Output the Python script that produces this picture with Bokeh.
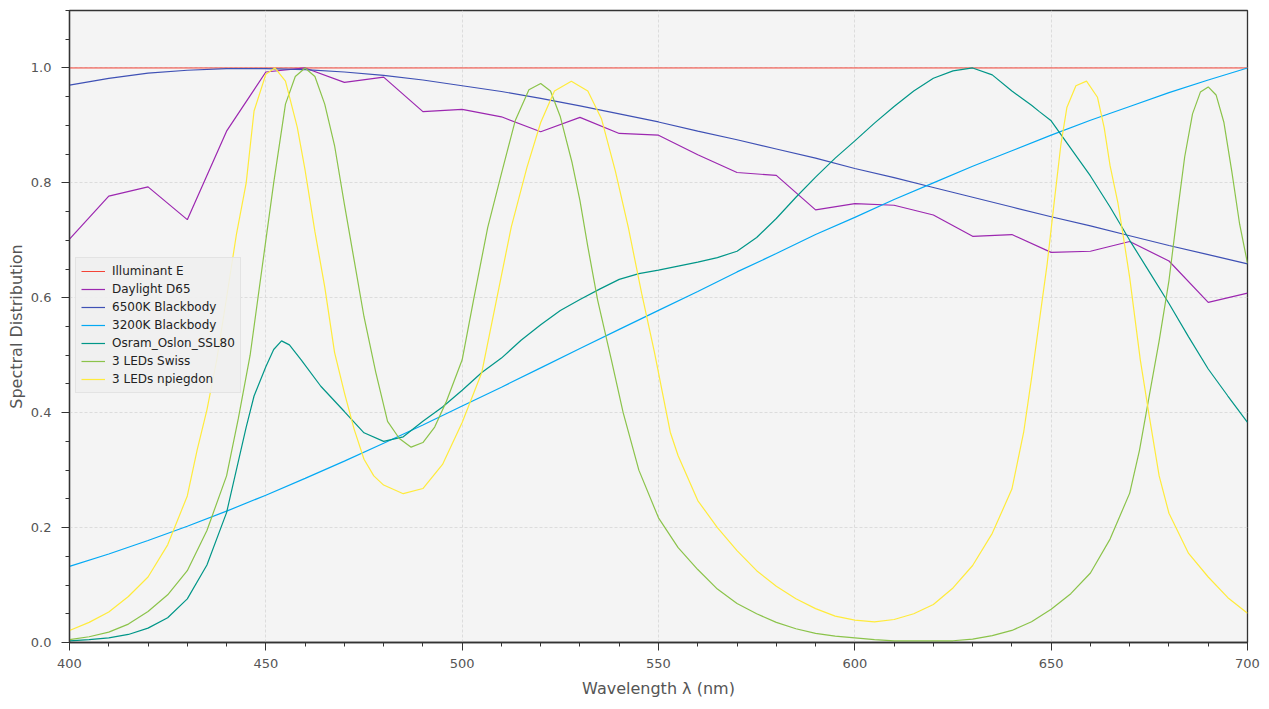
from bokeh.plotting import figure
from bokeh.models import Range1d, SingleIntervalTicker, NumeralTickFormatter, Legend, LegendItem
from bokeh.embed import file_html
from bokeh.resources import INLINE

# ---------------- data ----------------
wl10 = list(range(400, 701, 10))

illuminant_e_x = [400, 700]
illuminant_e_y = [1.0, 1.0]

d65_y = [0.702, 0.777, 0.793, 0.736, 0.890, 0.993, 1.000, 0.975, 0.984, 0.924,
         0.928, 0.915, 0.889, 0.914, 0.886, 0.883, 0.849, 0.818, 0.813, 0.753,
         0.764, 0.761, 0.744, 0.707, 0.710, 0.679, 0.681, 0.698, 0.664, 0.592, 0.608]

bb6500_y = [0.970, 0.982, 0.991, 0.996, 0.999, 0.999, 0.997, 0.993, 0.987, 0.979,
            0.969, 0.959, 0.947, 0.934, 0.920, 0.906, 0.890, 0.875, 0.859, 0.843,
            0.825, 0.809, 0.792, 0.775, 0.758, 0.741, 0.725, 0.708, 0.691, 0.675, 0.659]

bb3200_y = [0.1325, 0.154, 0.1775, 0.2023, 0.2286, 0.2564, 0.2857, 0.3157, 0.3468, 0.3787,
            0.4115, 0.4444, 0.478, 0.5117, 0.545, 0.578, 0.611, 0.645, 0.677, 0.710,
            0.740, 0.771, 0.800, 0.829, 0.856, 0.883, 0.909, 0.933, 0.957, 0.979, 1.000]

osram_x = [400, 405, 410, 415, 420, 425, 430, 435, 440, 445, 447, 450, 452, 454, 456,
           459, 464, 470, 475, 480, 485, 490, 495, 500, 505, 510, 515, 520, 525, 530,
           535, 540, 545, 550, 555, 560, 565, 570, 575, 580, 585, 590, 595, 600, 605,
           610, 615, 620, 625, 630, 635, 640, 645, 647, 650, 655, 660, 665, 670, 675,
           680, 685, 690, 695, 700]
osram_y = [0.003, 0.005, 0.008, 0.014, 0.025, 0.043, 0.076, 0.135, 0.226, 0.375, 0.429, 0.480, 0.510, 0.525, 0.518,
           0.492, 0.446, 0.402, 0.365, 0.350, 0.358, 0.385, 0.410, 0.439, 0.470, 0.495, 0.526, 0.553, 0.578, 0.597,
           0.615, 0.632, 0.642, 0.648, 0.655, 0.662, 0.670, 0.681, 0.705, 0.738, 0.775, 0.810, 0.843, 0.873, 0.904,
           0.933, 0.960, 0.982, 0.995, 1.000, 0.988, 0.960, 0.935, 0.924, 0.908, 0.860, 0.812, 0.758, 0.700, 0.645,
           0.590, 0.532, 0.476, 0.429, 0.383]

swiss_x = [400, 405, 410, 415, 420, 425, 430, 435, 440, 443, 446, 448, 450, 452, 455,
           457.5, 460, 462.5, 465, 467.5, 470, 472.5, 475, 478, 481, 484, 487, 490, 493, 496,
           500, 503, 506.5, 510, 513.5, 517, 520, 522.5, 525, 528, 530, 532, 534.5, 538, 541,
           545, 550, 555, 560, 565, 570, 575, 580, 585, 590, 595, 600, 605, 610, 615,
           620, 625, 630, 635, 640, 645, 650, 655, 660, 665, 670, 672.5, 675, 677.5, 680,
           682, 684, 686, 688, 690, 692, 694, 696, 698, 700]
swiss_y = [0.005, 0.010, 0.018, 0.032, 0.054, 0.083, 0.125, 0.195, 0.290, 0.390, 0.500, 0.600, 0.700, 0.800, 0.937,
           0.985, 1.000, 0.985, 0.937, 0.865, 0.763, 0.665, 0.567, 0.470, 0.385, 0.355, 0.340, 0.348, 0.375, 0.420,
           0.492, 0.600, 0.722, 0.816, 0.908, 0.962, 0.973, 0.960, 0.915, 0.835, 0.769, 0.689, 0.596, 0.492, 0.400,
           0.300, 0.217, 0.165, 0.127, 0.093, 0.068, 0.050, 0.035, 0.024, 0.016, 0.011, 0.008, 0.005, 0.003, 0.003,
           0.003, 0.003, 0.006, 0.012, 0.021, 0.036, 0.058, 0.085, 0.121, 0.180, 0.260, 0.335, 0.430, 0.525, 0.630,
           0.740, 0.845, 0.920, 0.958, 0.967, 0.953, 0.905, 0.820, 0.728, 0.660]

npieg_x = [400, 405, 410, 415, 420, 425, 430, 432.5, 435, 437.5, 440, 442.5, 445, 447, 450,
           452.3, 455, 458, 460, 462.5, 465, 467.5, 470, 472.5, 475, 477.5, 480, 485, 490, 495,
           500, 505, 509, 512.5, 516.5, 520, 523.5, 527.8, 532, 535.5, 539, 542.3, 545.7, 549, 551,
           553, 555, 560, 565, 570, 575, 580, 585, 590, 595, 600, 605, 610, 615, 620,
           625, 630, 635, 640, 643, 645, 647, 649, 651, 652.5, 654, 656.3, 659, 661.8, 663.5,
           665, 667, 668.3, 670, 672.7, 675, 677.5, 680, 685, 690, 695, 700]
npieg_y = [0.021, 0.035, 0.053, 0.080, 0.114, 0.170, 0.255, 0.335, 0.405, 0.492, 0.600, 0.710, 0.800, 0.925, 0.989,
           1.000, 0.977, 0.897, 0.822, 0.715, 0.619, 0.505, 0.435, 0.371, 0.319, 0.290, 0.274, 0.259, 0.268, 0.310,
           0.383, 0.470, 0.605, 0.723, 0.827, 0.905, 0.960, 0.977, 0.960, 0.911, 0.821, 0.723, 0.608, 0.504, 0.435,
           0.366, 0.325, 0.247, 0.200, 0.160, 0.125, 0.098, 0.076, 0.059, 0.046, 0.039, 0.036, 0.040, 0.050, 0.066,
           0.095, 0.134, 0.190, 0.267, 0.366, 0.460, 0.560, 0.660, 0.780, 0.868, 0.931, 0.969, 0.977, 0.949, 0.896,
           0.830, 0.765, 0.710, 0.635, 0.492, 0.393, 0.290, 0.225, 0.155, 0.114, 0.078, 0.051]

series_names = ["Illuminant E", "Daylight D65", "6500K Blackbody", "3200K Blackbody",
                "Osram_Oslon_SSL80", "3 LEDs Swiss", "3 LEDs npiegdon"]
series_colors = ["#f44336", "#9c27b0", "#3f51b5", "#03a9f4", "#009688", "#8bc34a", "#ffeb3b"]

x_ticks_interval = 50
y_ticks_interval = 0.2

# ---------------- figure ----------------
p = figure(width=1262, height=700, output_backend="svg", toolbar_location=None,
           x_range=Range1d(400, 700), y_range=Range1d(0, 1.1),
           min_border_left=69, min_border_right=15, min_border_top=10, min_border_bottom=56)
p.background_fill_color = "#f4f4f4"
p.border_fill_color = "white"
p.outline_line_color = "#333333"
p.outline_line_width = 1.3

fonts = "DejaVu Sans"
for ax in (p.xaxis[0], p.yaxis[0]):
    ax.axis_line_color = "#333333"
    ax.axis_line_width = 1.3
    ax.major_tick_line_color = "#333333"
    ax.minor_tick_line_color = "#333333"
    ax.major_tick_out = 8
    ax.major_tick_in = 0
    ax.minor_tick_out = 4
    ax.minor_tick_in = 0
    ax.major_label_text_font = fonts
    ax.major_label_text_font_size = "13px"
    ax.major_label_text_color = "#555555"
    ax.axis_label_text_font = fonts
    ax.axis_label_text_font_size = "16px"
    ax.axis_label_text_font_style = "normal"
    ax.axis_label_text_color = "#555555"

p.xaxis[0].ticker = SingleIntervalTicker(interval=x_ticks_interval, num_minor_ticks=5)
p.yaxis[0].ticker = SingleIntervalTicker(interval=y_ticks_interval, num_minor_ticks=4)
p.yaxis[0].formatter = NumeralTickFormatter(format="0.0")
p.xaxis[0].axis_label = "Wavelength λ (nm)"
p.yaxis[0].axis_label = "Spectral Distribution"
p.xaxis[0].major_label_standoff = 8
p.yaxis[0].major_label_standoff = 10
p.xaxis[0].axis_label_standoff = 8
p.yaxis[0].axis_label_standoff = 2

for g in (p.xgrid[0], p.ygrid[0]):
    g.grid_line_color = "#d6d6d6"
    g.grid_line_dash = "3 2"
    g.grid_line_width = 0.8

lw = 1.2
r_e = p.line(illuminant_e_x, illuminant_e_y, color=series_colors[0], line_width=1.0)
r_d65 = p.line(wl10, d65_y, color=series_colors[1], line_width=lw)
r_65 = p.line(wl10, bb6500_y, color=series_colors[2], line_width=lw)
r_32 = p.line(wl10, bb3200_y, color=series_colors[3], line_width=lw)
r_os = p.line(osram_x, osram_y, color=series_colors[4], line_width=lw)
r_sw = p.line(swiss_x, swiss_y, color=series_colors[5], line_width=lw)
r_np = p.line(npieg_x, npieg_y, color=series_colors[6], line_width=lw)

renderers = [r_e, r_d65, r_65, r_32, r_os, r_sw, r_np]
legend = Legend(items=[LegendItem(label=n, renderers=[r]) for n, r in zip(series_names, renderers)],
                location=(6, 249))
legend.label_text_font = fonts
legend.label_text_font_size = "12px"
legend.label_text_color = "#222222"
legend.glyph_width = 24
legend.glyph_height = 16
legend.label_height = 16
legend.spacing = 2
legend.padding = 5
legend.margin = 0
legend.label_standoff = 7
legend.background_fill_color = "#f0f0f0"
legend.background_fill_alpha = 0.9
legend.border_line_color = "#d6d6d6"
legend.border_line_width = 1
p.add_layout(legend, "center")

open("out.html", "w").write(file_html(p, INLINE))
